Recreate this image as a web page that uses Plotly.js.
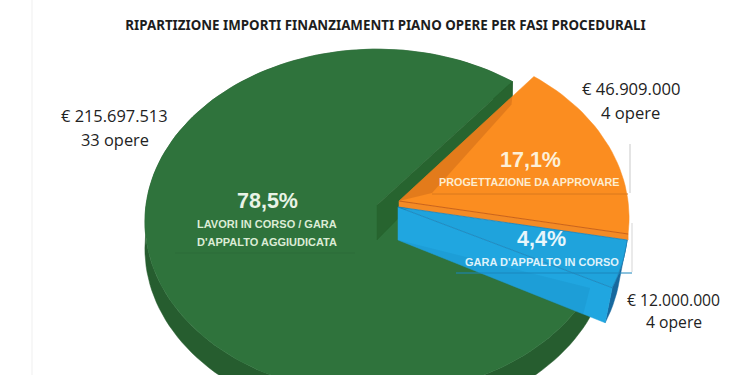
<!DOCTYPE html>
<html><head><meta charset="utf-8">
<script src="https://cdn.plot.ly/plotly-3.0.1.min.js"></script>
<style>html,body{margin:0;padding:0;background:#fff;overflow:hidden}#c{width:750px;height:375px}</style>
</head><body><div id="c"></div>
<script>
// --- data ---
const categories = ["LAVORI IN CORSO / GARA<br>D'APPALTO AGGIUDICATA", "PROGETTAZIONE DA APPROVARE", "GARA D'APPALTO IN CORSO"];
const amounts = [215697513, 46909000, 12000000];
const amountLabels = ["€ 215.697.513", "€ 46.909.000", "€ 12.000.000"];
const works = ["33 opere", "4 opere", "4 opere"];
const percentLabels = ["78,5%", "17,1%", "4,4%"];
const chartTitle = "RIPARTIZIONE IMPORTI FINANZIAMENTI PIANO OPERE PER FASI PROCEDURALI";

// --- perspective pie geometry: angles come from the amounts ---
const total = amounts.reduce((a, b) => a + b, 0);
const sweep = amounts.map(v => v / total * 360);
const K = 0.097;
function proj(apex, R, S, deg) {
  const t = deg * Math.PI / 180, u = Math.cos(t), v = -Math.sin(t), w = 1 - K * v;
  return [apex[0] + R * u / w, apex[1] + S * v / w];
}
function arc(apex, R, S, a0, a1) {
  const n = Math.max(8, Math.round(Math.abs(a1 - a0) / 2)), p = [];
  for (let i = 0; i <= n; i++) p.push(proj(apex, R, S, a0 + (a1 - a0) * i / n));
  return p;
}
const shift = (p, dx, dy) => p.map(q => [q[0] + dx, q[1] + dy]);
function poly(pts, fill, line, lw) {
  return { type: "scatter", mode: "lines", x: pts.map(p => p[0]).concat(pts[0][0]), y: pts.map(p => p[1]).concat(pts[0][1]),
    fill: "toself", fillcolor: fill, line: { color: line || fill, width: lw === undefined ? 0.5 : lw }, hoverinfo: "skip", showlegend: false };
}
const gA = [377, 205], oA = [399, 201], bA = [398, 207];
const gStart = 50.9, oStart = 50.7;
const oEnd = oStart - sweep[1], bEnd = oEnd - sweep[2];
const gArc = arc(gA, 231, 171, gStart, gStart + sweep[0]);
const oArc = arc(oA, 229, 173, oStart, oEnd);
const bArc = arc(bA, 229, 173, oEnd, bEnd);
const gTip = gArc[0], oTip = oArc[oArc.length - 1], bTip = bArc[bArc.length - 1];

const traces = [];
// green outer wall, top face, inner wall
traces.push(poly(gArc.concat(shift(gArc, 0, 27).reverse()), "#265d2f"));
traces.push(poly([gA].concat(gArc), "#2f733c"));
traces.push(poly([gA, gTip, [gTip[0] - 1, gTip[1] + 21], [gA[0], gA[1] + 35]], "#27642f"));
// orange wall + top
traces.push(poly([oA, oTip, [oTip[0], oTip[1] + 6], [oA[0], oA[1] + 6]], "#f48b25"));
traces.push(poly([oA].concat(oArc), "#fb8d20"));
traces.push({ type: "scatter", mode: "lines", x: [oA[0], oTip[0]], y: [oA[1], oTip[1]], line: { color: "#c9631c", width: 1 }, hoverinfo: "skip", showlegend: false });
// shadow of the green wall on the orange face
const sA = proj(oA, 229, 173, oStart);
traces.push(poly([oA, [oA[0] + (sA[0] - oA[0]) * 0.84, oA[1] + (sA[1] - oA[1]) * 0.84], [gTip[0] - 1, gTip[1] + 23], [oA[0] + 33, oA[1] - 8]], "rgba(190,95,20,0.38)", "rgba(0,0,0,0)", 0));
// blue side wall, cut wall, top face
traces.push(poly(bArc.concat(shift(bArc, -7, 35).reverse()), "#17689e"));
traces.push(poly([bA, [bA[0], bA[1] + 33], [bTip[0] - 7, bTip[1] + 35], bTip], "#20a6e0"));
traces.push(poly([bA].concat(bArc), "#1fa3dc", "#1a80b6", 0.8));
// tint over the blue wall
traces.push(poly([[bA[0], bA[1] + 33], [bA[0] + 192, bA[1] + 81], [bA[0] + 185, bA[1] + 108]], "rgba(20,120,170,0.16)", "rgba(0,0,0,0)", 0));

const annotations = [];
const note = (x, y, text, size, color, bold, family) => annotations.push({ x, y, xref: "x", yref: "y", text: bold ? "<b>" + text + "</b>" : text, showarrow: false, xanchor: "center", yanchor: "middle",
  align: "center", font: { size, color, family } });
const SANS = "Liberation Sans, Arial, sans-serif", BODY = "Open Sans, sans-serif";
const greenLines = categories[0].split("<br>");
note(114.5, 115.5, amountLabels[0], 16.4, "#222", false, BODY);
note(114.5, 139.5, works[0], 16.4, "#222", false, BODY);
note(630.5, 88.5, amountLabels[1], 16.6, "#222", false, BODY);
note(630.5, 112, works[1], 16.6, "#222", false, BODY);
note(673.5, 299.5, amountLabels[2], 15.7, "#222", false, BODY);
note(673.5, 322, works[2], 15.7, "#222", false, BODY);
note(267, 201, percentLabels[0], 21.5, "#e9f3e6", true, SANS);
note(267, 224, greenLines[0], 11, "#dcecd6", true, SANS);
note(267, 241.5, greenLines[1], 11, "#dcecd6", true, SANS);
note(530, 160, percentLabels[1], 21.5, "#fdf0d8", true, SANS);
note(529.5, 182, categories[1], 10.8, "#fdeccf", true, SANS);
note(541.5, 239, percentLabels[2], 21.5, "#e8f6fb", true, SANS);
note(541.5, 262, categories[2], 11, "#dff2fa", true, SANS);

const seg = (x0, y0, x1, y1, color, width) => ({ type: "line", xref: "x", yref: "y", x0, y0, x1, y1, line: { color, width }, layer: "above" });
const shapes = [
  seg(32, 0, 32, 375, "#efefef", 1),
  seg(630, 144, 630, 193, "#c9c9c9", 1),
  seg(432, 194, 628, 194, "#d9791c", 1),
  seg(632, 223, 632, 272, "#d5d5d5", 1),
  seg(456, 273, 632, 273, "#1a86bd", 1),
  seg(175, 253, 355, 253, "#2c6d39", 1)
];

Plotly.newPlot("c", traces, {
  width: 750, height: 375, margin: { l: 0, r: 0, t: 0, b: 0 }, paper_bgcolor: "#fff", plot_bgcolor: "#fff", showlegend: false,
  title: { text: "<b>" + chartTitle + "</b>", x: 385.5 / 750, xanchor: "center", y: 1 - 25.5 / 375, yanchor: "middle", font: { size: 13.35, color: "#1d1d1d", family: "Noto Sans, sans-serif" } },
  xaxis: { range: [0, 750], visible: false, fixedrange: true },
  yaxis: { range: [375, 0], visible: false, fixedrange: true },
  annotations, shapes
}, { displayModeBar: false, staticPlot: true });
</script></body></html>
